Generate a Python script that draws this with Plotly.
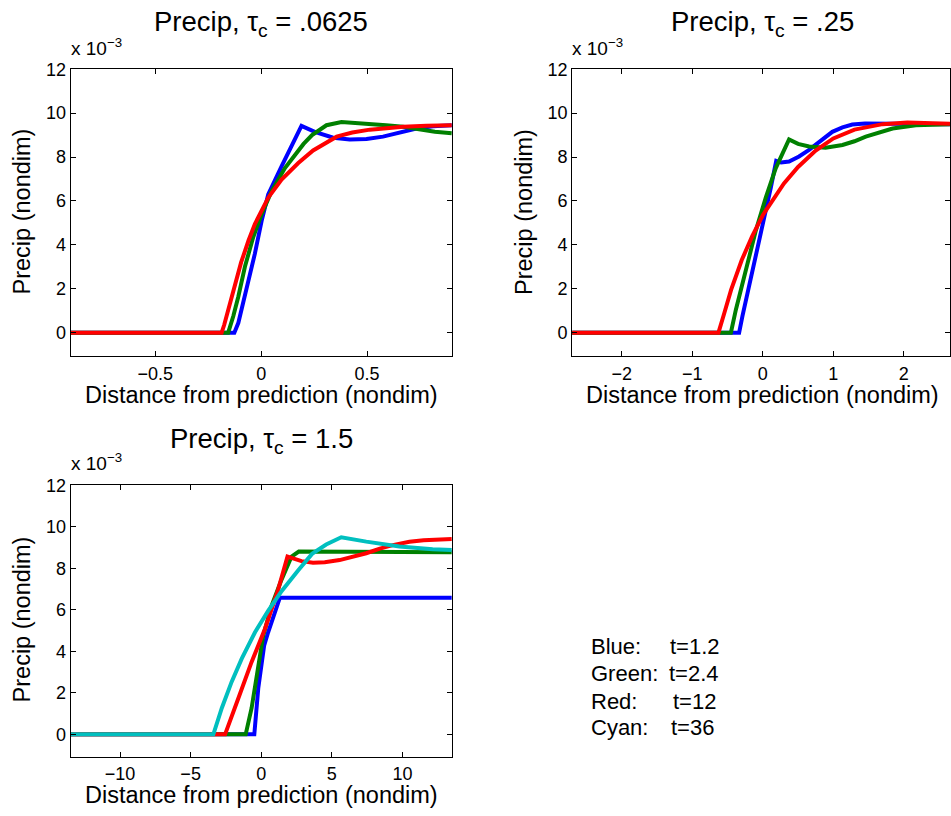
import plotly.graph_objects as go

# ---------------- data (precip values in units of 1e-3) ----------------
TL_blue_x = [-0.9, -0.127, -0.108, -0.085, -0.061, -0.030, 0.002, 0.033, 0.096, 0.143, 0.19, 0.253, 0.30, 0.34, 0.418, 0.497, 0.575, 0.654, 0.733, 0.811, 0.9]
TL_blue_y = [0, 0, 0.45, 1.35, 2.4, 3.6, 5.1, 6.3, 7.58, 8.55, 9.42, 9.15, 8.98, 8.88, 8.8, 8.82, 8.93, 9.12, 9.3, 9.4, 9.45]
TL_green_x = [-0.9, -0.156, -0.132, -0.108, -0.077, -0.038, 0.002, 0.049, 0.112, 0.175, 0.20, 0.24, 0.308, 0.379, 0.45, 0.513, 0.59, 0.67, 0.75, 0.82, 0.9]
TL_green_y = [0, 0, 0.75, 1.65, 3.0, 4.35, 5.4, 6.45, 7.5, 8.25, 8.6, 9.0, 9.45, 9.6, 9.56, 9.51, 9.45, 9.38, 9.25, 9.15, 9.08]
TL_red_x = [-0.9, -0.187, -0.175, -0.16, -0.14, -0.12, -0.095, -0.06, -0.030, 0.033, 0.096, 0.175, 0.245, 0.356, 0.43, 0.513, 0.59, 0.67, 0.78, 0.9]
TL_red_y = [0, 0, 0.35, 0.9, 1.55, 2.3, 3.2, 4.2, 4.95, 6.15, 6.98, 7.73, 8.3, 8.93, 9.12, 9.25, 9.33, 9.38, 9.43, 9.45]

TR_blue_x = [-2.705, -0.336, -0.289, -0.194, -0.076, 0.042, 0.113, 0.19, 0.26, 0.372, 0.514, 0.656, 0.82, 0.986, 1.13, 1.27, 1.45, 1.69, 2.1, 2.655]
TR_blue_y = [0, 0, 0.75, 2.1, 3.75, 5.55, 6.6, 7.83, 7.75, 7.8, 8.03, 8.33, 8.75, 9.15, 9.35, 9.48, 9.53, 9.53, 9.52, 9.5]
TR_green_x = [-2.705, -0.453, -0.382, -0.241, -0.099, 0.042, 0.184, 0.372, 0.5, 0.656, 0.89, 1.13, 1.3, 1.46, 1.65, 1.84, 2.17, 2.655]
TR_green_y = [0, 0, 1.05, 2.85, 4.65, 6.15, 7.5, 8.8, 8.6, 8.48, 8.43, 8.55, 8.72, 8.93, 9.12, 9.3, 9.45, 9.5]
TR_red_x = [-2.705, -0.629, -0.55, -0.45, -0.3, -0.15, 0.0, 0.15, 0.3, 0.5, 0.75, 1.0, 1.3, 1.7, 2.05, 2.655]
TR_red_y = [0, 0, 0.85, 1.95, 3.3, 4.4, 5.35, 6.1, 6.8, 7.55, 8.3, 8.85, 9.25, 9.5, 9.57, 9.52]

BL_blue_x = [-13.5, -0.49, -0.21, 0.03, 0.21, 0.49, 0.85, 1.32, 13.5]
BL_blue_y = [0, 0, 2.22, 3.49, 4.29, 4.92, 5.71, 6.59, 6.59]
BL_green_x = [-13.5, -1.1, -0.68, -0.21, 0.14, 0.73, 1.44, 2.15, 2.66, 13.5]
BL_green_y = [0, 0, 1.27, 3.17, 4.76, 6.19, 7.46, 8.57, 8.81, 8.78]
BL_red_x = [-13.5, -2.56, -1.62, -0.68, 0.26, 1.2, 1.86, 2.85, 3.67, 4.5, 5.55, 6.5, 7.44, 8.4, 9.32, 10.5, 11.5, 13.5]
BL_red_y = [0, 0, 1.74, 3.49, 5.08, 6.98, 8.57, 8.35, 8.27, 8.3, 8.4, 8.55, 8.73, 8.95, 9.12, 9.28, 9.36, 9.42]
BL_cyan_x = [-13.5, -3.39, -2.79, -2.09, -1.38, -0.44, 0.49, 1.44, 2.61, 3.6, 4.6, 5.67, 7.44, 9.79, 12.14, 13.5]
BL_cyan_y = [0, 0, 1.27, 2.54, 3.65, 4.92, 5.95, 6.9, 7.9, 8.7, 9.15, 9.5, 9.29, 9.05, 8.92, 8.89]

titles = ["Precip, τ<sub>c</sub> = .0625", "Precip, τ<sub>c</sub> = .25", "Precip, τ<sub>c</sub> = 1.5"]
xlabel = "Distance from prediction (nondim)"
ylabel = "Precip (nondim)"
scale_label = "x 10<sup>−3</sup>"
y_ticks = [0, 2, 4, 6, 8, 10, 12]
TL_xticks = [-0.5, 0, 0.5]
TR_xticks = [-2, -1, 0, 1, 2]
BL_xticks = [-10, -5, 0, 5, 10]
legend_names = ["Blue:", "Green:", "Red:", "Cyan:"]
legend_times = ["t=1.2", "t=2.4", "t=12", "t=36"]

# ---------------- styling ----------------
W, H = 951, 816
FONT = "Liberation Sans, Arial, Helvetica, sans-serif"
C_BLUE, C_GREEN, C_RED, C_CYAN = "#0000ff", "#008000", "#ff0000", "#00bfbf"
LW = 4

def fx(px):
    return px / W

def fy(py):
    return 1 - py / H

fig = go.Figure()

def add(x, y, color, xa, ya):
    fig.add_trace(go.Scatter(x=x, y=y, mode="lines", line=dict(color=color, width=LW),
                             xaxis=xa, yaxis=ya, showlegend=False, hoverinfo="skip"))

add(TL_blue_x, TL_blue_y, C_BLUE, "x", "y")
add(TL_green_x, TL_green_y, C_GREEN, "x", "y")
add(TL_red_x, TL_red_y, C_RED, "x", "y")
add(TR_blue_x, TR_blue_y, C_BLUE, "x2", "y2")
add(TR_green_x, TR_green_y, C_GREEN, "x2", "y2")
add(TR_red_x, TR_red_y, C_RED, "x2", "y2")
add(BL_blue_x, BL_blue_y, C_BLUE, "x3", "y3")
add(BL_green_x, BL_green_y, C_GREEN, "x3", "y3")
add(BL_red_x, BL_red_y, C_RED, "x3", "y3")
add(BL_cyan_x, BL_cyan_y, C_CYAN, "x3", "y3")

TICKSIZE = 18

def xax(domain, rng, ticks, anchor):
    return dict(domain=domain, range=rng, tickvals=ticks, anchor=anchor,
                showline=True, linecolor="black", linewidth=1, mirror="allticks",
                ticks="inside", ticklen=5, tickcolor="black", showgrid=False, zeroline=False,
                tickfont=dict(family=FONT, size=TICKSIZE, color="black"), ticklabelstandoff=1)

def yax(domain, rng, anchor):
    return dict(domain=domain, range=rng, tickvals=y_ticks, anchor=anchor,
                showline=True, linecolor="black", linewidth=1, mirror="allticks",
                ticks="inside", ticklen=5, tickcolor="black", showgrid=False, zeroline=False,
                tickfont=dict(family=FONT, size=TICKSIZE, color="black"), ticklabelstandoff=0)

TL_xd = [fx(70.7), fx(452.3)]
TR_xd = [fx(572.7), 1.0]
top_yd = [fy(350.7), fy(60)]
bot_yd = [fy(756), fy(481.3)]
YR = [-1.08, 12]

fig.update_layout(
    width=W, height=H, autosize=False,
    margin=dict(l=0, r=0, t=0, b=0),
    paper_bgcolor="white", plot_bgcolor="white",
    xaxis=xax(TL_xd, [-0.9, 0.9], TL_xticks, "y"),
    yaxis=yax(top_yd, YR, "x"),
    xaxis2=xax(TR_xd, [-2.705, 2.655], TR_xticks, "y2"),
    yaxis2=yax(top_yd, YR, "x2"),
    xaxis3=xax(TL_xd, [-13.5, 13.5], BL_xticks, "y3"),
    yaxis3=yax(bot_yd, YR, "x3"),
)

ann = []
def text(s, x, y, size, xanchor="center", yanchor="middle", angle=0):
    ann.append(dict(text=s, x=fx(x), y=fy(y), xref="paper", yref="paper", showarrow=False,
                    xanchor=xanchor, yanchor=yanchor, textangle=angle,
                    font=dict(family=FONT, size=size, color="black")))

TS, LS = 27.5, 23.5
# titles
text(titles[0], 261.5, 14, TS)
text(titles[1], 763.5, 14, TS)
text(titles[2], 261.5, 436, TS)
# x labels
text(xlabel, 261.5, 390, LS)
text(xlabel, 763.5, 390, LS)
text(xlabel, 261.5, 795, LS)
# y labels
text(ylabel, 22, 204, LS, angle=-90)
text(ylabel, 524, 204, LS, angle=-90)
text(ylabel, 22, 617, LS, angle=-90)
# scale factor
text(scale_label, 69, 37, 19, xanchor="left")
text(scale_label, 571, 37, 19, xanchor="left")
text(scale_label, 69, 458, 19, xanchor="left")
# legend text
leg_y = [646.7, 674, 701.7, 728.7]
leg_tx = [670, 669, 672.7, 671]
for nm, tm, yy, tx in zip(legend_names, legend_times, leg_y, leg_tx):
    text(nm, 589.5, yy - 2, 22, xanchor="left")
    text(tm, tx - 1, yy - 2, 22, xanchor="left")

fig.update_layout(annotations=ann)
fig.write_html("out.html", config={"displayModeBar": False},
               post_script="document.body.style.margin='0px';document.documentElement.style.overflow='hidden';")
